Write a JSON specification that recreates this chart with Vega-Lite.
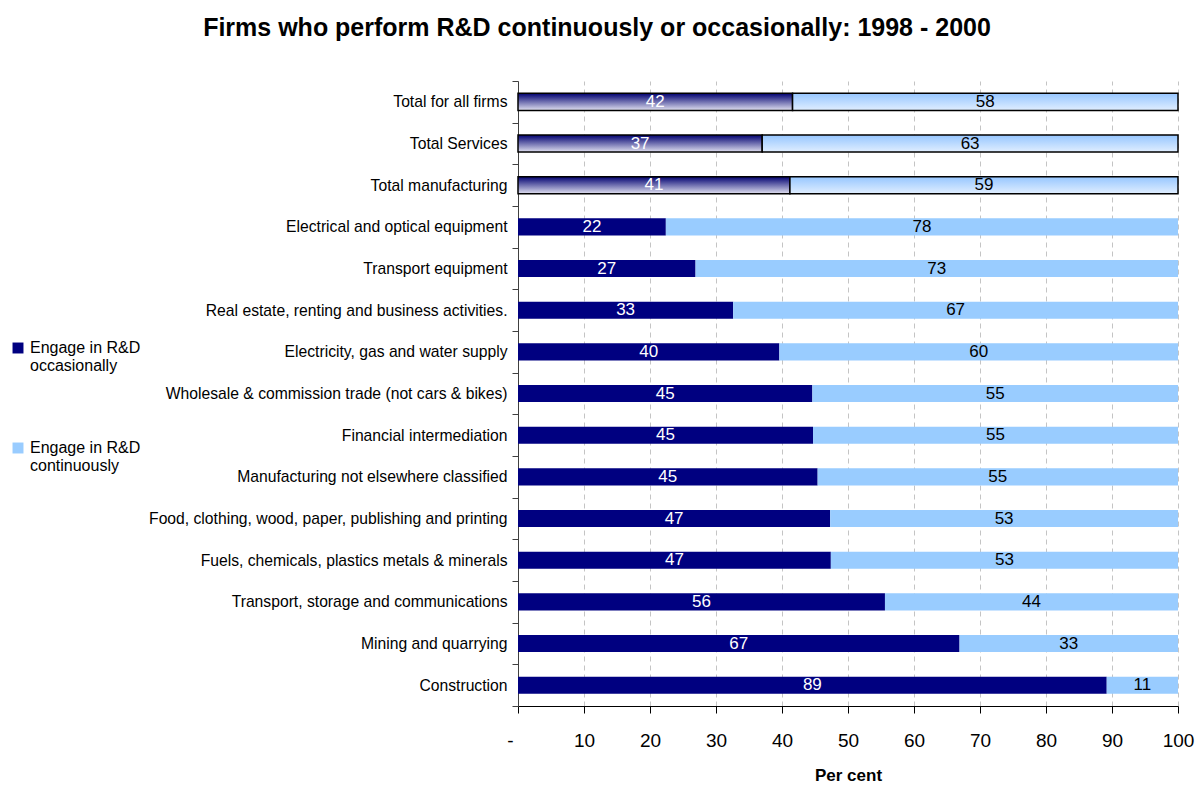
{
  "$schema": "https://vega.github.io/schema/vega-lite/v6.json",
  "width": 660,
  "height": 625,
  "autosize": {"type": "none"},
  "padding": {"left": 518, "top": 81, "right": 18, "bottom": 81},
  "background": "white",
  "config": {"view": {"stroke": null}, "font": "Liberation Sans"},
  "title": {
    "text": "Firms who perform R&D continuously or occasionally: 1998 - 2000",
    "font": "Liberation Sans",
    "fontSize": 25,
    "fontWeight": "bold",
    "color": "black",
    "anchor": "middle",
    "dx": -251,
    "offset": 32
  },
  "data": {
    "values": [
      {"category": "Total for all firms", "type": "Engage in R&D occasionally", "ord": 1, "value": 41.6, "label": 42, "kind": "total"},
      {"category": "Total for all firms", "type": "Engage in R&D continuously", "ord": 2, "value": 58.4, "label": 58, "kind": "total"},
      {"category": "Total Services", "type": "Engage in R&D occasionally", "ord": 1, "value": 37.0, "label": 37, "kind": "total"},
      {"category": "Total Services", "type": "Engage in R&D continuously", "ord": 2, "value": 63.0, "label": 63, "kind": "total"},
      {"category": "Total manufacturing", "type": "Engage in R&D occasionally", "ord": 1, "value": 41.2, "label": 41, "kind": "total"},
      {"category": "Total manufacturing", "type": "Engage in R&D continuously", "ord": 2, "value": 58.8, "label": 59, "kind": "total"},
      {"category": "Electrical and optical equipment", "type": "Engage in R&D occasionally", "ord": 1, "value": 22.4, "label": 22, "kind": "detail"},
      {"category": "Electrical and optical equipment", "type": "Engage in R&D continuously", "ord": 2, "value": 77.6, "label": 78, "kind": "detail"},
      {"category": "Transport equipment", "type": "Engage in R&D occasionally", "ord": 1, "value": 26.9, "label": 27, "kind": "detail"},
      {"category": "Transport equipment", "type": "Engage in R&D continuously", "ord": 2, "value": 73.1, "label": 73, "kind": "detail"},
      {"category": "Real estate, renting and business activities.", "type": "Engage in R&D occasionally", "ord": 1, "value": 32.6, "label": 33, "kind": "detail"},
      {"category": "Real estate, renting and business activities.", "type": "Engage in R&D continuously", "ord": 2, "value": 67.4, "label": 67, "kind": "detail"},
      {"category": "Electricity, gas and water supply", "type": "Engage in R&D occasionally", "ord": 1, "value": 39.6, "label": 40, "kind": "detail"},
      {"category": "Electricity, gas and water supply", "type": "Engage in R&D continuously", "ord": 2, "value": 60.4, "label": 60, "kind": "detail"},
      {"category": "Wholesale & commission trade (not cars & bikes)", "type": "Engage in R&D occasionally", "ord": 1, "value": 44.6, "label": 45, "kind": "detail"},
      {"category": "Wholesale & commission trade (not cars & bikes)", "type": "Engage in R&D continuously", "ord": 2, "value": 55.4, "label": 55, "kind": "detail"},
      {"category": "Financial intermediation", "type": "Engage in R&D occasionally", "ord": 1, "value": 44.7, "label": 45, "kind": "detail"},
      {"category": "Financial intermediation", "type": "Engage in R&D continuously", "ord": 2, "value": 55.3, "label": 55, "kind": "detail"},
      {"category": "Manufacturing not elsewhere classified", "type": "Engage in R&D occasionally", "ord": 1, "value": 45.4, "label": 45, "kind": "detail"},
      {"category": "Manufacturing not elsewhere classified", "type": "Engage in R&D continuously", "ord": 2, "value": 54.6, "label": 55, "kind": "detail"},
      {"category": "Food, clothing, wood, paper, publishing and printing", "type": "Engage in R&D occasionally", "ord": 1, "value": 47.3, "label": 47, "kind": "detail"},
      {"category": "Food, clothing, wood, paper, publishing and printing", "type": "Engage in R&D continuously", "ord": 2, "value": 52.7, "label": 53, "kind": "detail"},
      {"category": "Fuels, chemicals, plastics metals & minerals", "type": "Engage in R&D occasionally", "ord": 1, "value": 47.4, "label": 47, "kind": "detail"},
      {"category": "Fuels, chemicals, plastics metals & minerals", "type": "Engage in R&D continuously", "ord": 2, "value": 52.6, "label": 53, "kind": "detail"},
      {"category": "Transport, storage and communications", "type": "Engage in R&D occasionally", "ord": 1, "value": 55.6, "label": 56, "kind": "detail"},
      {"category": "Transport, storage and communications", "type": "Engage in R&D continuously", "ord": 2, "value": 44.4, "label": 44, "kind": "detail"},
      {"category": "Mining and quarrying", "type": "Engage in R&D occasionally", "ord": 1, "value": 66.9, "label": 67, "kind": "detail"},
      {"category": "Mining and quarrying", "type": "Engage in R&D continuously", "ord": 2, "value": 33.1, "label": 33, "kind": "detail"},
      {"category": "Construction", "type": "Engage in R&D occasionally", "ord": 1, "value": 89.2, "label": 89, "kind": "detail"},
      {"category": "Construction", "type": "Engage in R&D continuously", "ord": 2, "value": 10.8, "label": 11, "kind": "detail"}
    ]
  },
  "encoding": {
    "y": {
      "field": "category",
      "type": "nominal",
      "sort": [
        "Total for all firms",
        "Total Services",
        "Total manufacturing",
        "Electrical and optical equipment",
        "Transport equipment",
        "Real estate, renting and business activities.",
        "Electricity, gas and water supply",
        "Wholesale & commission trade (not cars & bikes)",
        "Financial intermediation",
        "Manufacturing not elsewhere classified",
        "Food, clothing, wood, paper, publishing and printing",
        "Fuels, chemicals, plastics metals & minerals",
        "Transport, storage and communications",
        "Mining and quarrying",
        "Construction"
      ],
      "scale": {"paddingInner": 0, "paddingOuter": 0},
      "axis": {
        "title": null,
        "labelFont": "Liberation Sans",
        "labelFontSize": 15.7,
        "labelColor": "black",
        "labelLimit": 500,
        "labelPadding": 5,
        "tickSize": 6,
        "tickBand": "extent",
        "tickColor": "#404040",
        "domainColor": "#404040",
        "grid": false
      }
    },
    "x": {
      "field": "value",
      "type": "quantitative",
      "stack": "zero",
      "scale": {"domain": [0, 100], "nice": false},
      "axis": {
        "title": "Per cent",
        "titleFont": "Liberation Sans",
        "titleFontSize": 17,
        "titleFontWeight": "bold",
        "titleColor": "black",
        "titlePadding": 17,
        "values": [0, 10, 20, 30, 40, 50, 60, 70, 80, 90, 100],
        "labelExpr": "datum.value == 0 ? '-' : datum.label",
        "labelOffset": {"condition": {"test": "datum.value == 0", "value": -8}, "value": 0},
        "labelFlush": false,
        "labelFont": "Liberation Sans",
        "labelFontSize": 19,
        "labelColor": "black",
        "labelPadding": 18,
        "tickSize": 7,
        "tickColor": "black",
        "domainColor": "black",
        "grid": true,
        "gridColor": "#c4c4c4",
        "gridDash": [5, 4],
        "gridWidth": 1
      }
    },
    "order": {"field": "ord", "type": "quantitative"}
  },
  "layer": [
    {
      "transform": [{"filter": "datum.kind == 'detail'"}],
      "mark": {"type": "bar", "height": {"band": 0.41}},
      "encoding": {
        "color": {
          "field": "type",
          "type": "nominal",
          "scale": {
            "domain": ["Engage in R&D occasionally", "Engage in R&D continuously"],
            "range": ["#000080", "#99ccff"]
          },
          "legend": {
            "orient": "none",
            "legendX": -508,
            "legendY": 259,
            "title": null,
            "symbolType": "square",
            "symbolSize": 120,
            "symbolStrokeWidth": 0,
            "labelFont": "Liberation Sans",
            "labelFontSize": 16,
            "labelColor": "black",
            "labelBaseline": "middle",
            "labelOffset": 4,
            "labelLimit": 300,
            "rowPadding": 66,
            "labelExpr": "datum.label == 'Engage in R&D occasionally' ? ['Engage in R&D', 'occasionally'] : ['Engage in R&D', 'continuously']"
          }
        }
      }
    },
    {
      "transform": [{"filter": "datum.kind == 'total'"}],
      "mark": {"type": "bar", "height": {"band": 0.41}, "stroke": "black", "strokeWidth": 1.5},
      "encoding": {
        "detail": {"field": "type", "type": "nominal"},
        "fill": {
          "condition": {
            "test": "datum.ord == 1",
            "value": {"gradient": "linear", "x1": 0, "y1": 0, "x2": 0, "y2": 1, "stops": [{"offset": 0, "color": "#000070"}, {"offset": 1, "color": "#e0e0f0"}]}
          },
          "value": {"gradient": "linear", "x1": 0, "y1": 0, "x2": 0, "y2": 1, "stops": [{"offset": 0, "color": "#96c6ff"}, {"offset": 1, "color": "#e0eeff"}]}
        }
      }
    },
    {
      "mark": {"type": "text", "font": "Liberation Sans", "fontSize": 17, "baseline": "middle", "align": "center"},
      "encoding": {
        "x": {"field": "value", "type": "quantitative", "stack": "zero", "bandPosition": 0.5},
        "detail": {"field": "type", "type": "nominal"},
        "text": {"field": "label", "type": "quantitative"},
        "fill": {"condition": {"test": "datum.ord == 1", "value": "white"}, "value": "black"}
      }
    }
  ]
}
